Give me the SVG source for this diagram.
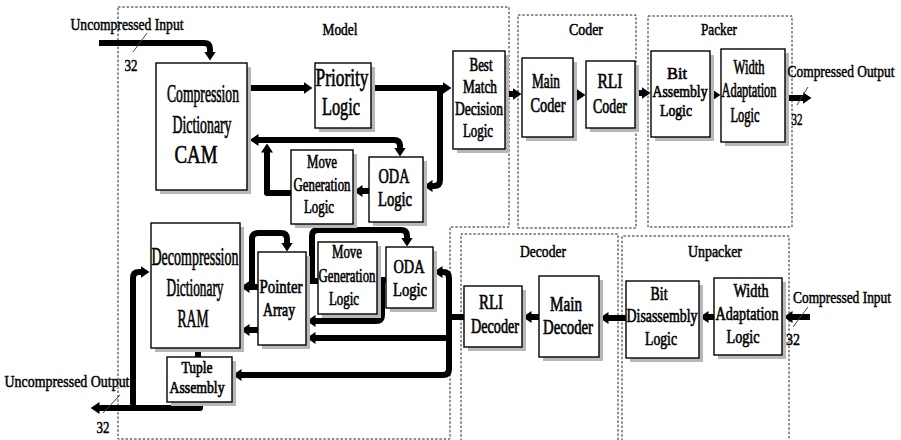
<svg xmlns="http://www.w3.org/2000/svg" width="901" height="440" viewBox="0 0 901 440">
<style>
text{font-family:"Liberation Serif","Times New Roman",serif;fill:#000;text-anchor:middle;stroke:#000;stroke-width:0.65}
.l{font-size:16px;stroke-width:0.5}
.reg{fill:none;stroke:#222;stroke-width:1;stroke-dasharray:2.5,1.8}
.box{fill:#fff;stroke:#000;stroke-width:1.4}
.sh{fill:#b8b8b8}
.w{fill:none;stroke:#000;stroke-width:6;stroke-linejoin:round}
.a{marker-end:url(#ah)}
.slash{stroke:#444;stroke-width:1;fill:none}
</style>
<defs>
<marker id="ah" viewBox="0 0 9 12" refX="0.5" refY="6" markerWidth="9" markerHeight="12" markerUnits="userSpaceOnUse" orient="auto-start-reverse"><path d="M0,0 L9,6 L0,12 z" fill="#000"/></marker>
</defs>
<rect width="901" height="440" fill="#fff"/>
<g id="regions">
<path class="reg" d="M118,7 H509 V227 H450 V439 H118 Z"/>
<rect class="reg" x="518" y="15" width="118" height="213"/>
<rect class="reg" x="648" y="16" width="144" height="211"/>
<path class="reg" d="M461,441 V234 H618 V441"/>
<path class="reg" d="M622,441 V236 H789 V441"/>
<text class="l" x="340" y="35" textLength="35" lengthAdjust="spacingAndGlyphs">Model</text>
<text class="l" x="586" y="35" textLength="34" lengthAdjust="spacingAndGlyphs">Coder</text>
<text class="l" x="719" y="35" textLength="36" lengthAdjust="spacingAndGlyphs">Packer</text>
<text class="l" x="543" y="257" textLength="46" lengthAdjust="spacingAndGlyphs">Decoder</text>
<text class="l" x="715" y="257" textLength="54" lengthAdjust="spacingAndGlyphs">Unpacker</text>
</g>
<g id="connectors">
<path class="w a" d="M99,43 H204 Q210,43 210,49 V52"/>
<path class="w a" d="M247,88 H304"/>
<path class="w a" d="M371,88 H443"/>
<path class="w a" d="M440,88 V180 Q440,186 434,186 H432"/>
<path class="w a" d="M369,191 H362"/>
<path class="w a" d="M291,193 H267 V152"/>
<path class="w a" d="M400,146 Q400,140 394,140 H258"/>
<path class="w a" d="M400,144 V148"/>
<path class="w a" d="M505,94 H513"/>
<path class="w a" d="M573,95 H577"/>
<path class="w a" d="M635,93 H642"/>
<path class="w a" d="M710,95 H712"/>
<path class="w a" d="M785,98 H803"/>
<path class="w a" d="M810,317 H792"/>
<path class="w a" d="M714,317 H708"/>
<path class="w a" d="M626,318 H608"/>
<path class="w a" d="M539,317 H531"/>
<path class="w a" d="M241,375 H443 Q449,375 449,369 V278 Q449,272 443,272 H442" marker-start="url(#ah)"/>
<path class="w a" d="M449,338 H315"/>
<path class="w" d="M464,317 H449"/>
<path class="w a" d="M386,280 H382 V315 Q382,321 376,321 H315"/>
<path class="w" d="M306,281 H318"/>
<path class="w a" d="M312,281 V236 Q312,230 318,230 H401 Q407,230 407,236 V238"/>
<path class="w a" d="M252,287 V239 Q252,233 258,233 H281 Q287,233 287,239 V243"/>
<path class="w a" d="M258,287 H249"/>
<path class="w a" d="M258,330 H249"/>
<path class="w" d="M198,347 V358"/>
<path class="w a" d="M200,401 V408 H99"/>
<path class="w a" d="M133,408 V278 Q133,272 139,272 H141"/>
<path class="slash" d="M133,52 L147,33 M797,105 L808,87 M793,327 L808,307 M103,413 L120,395"/>
</g>
<g id="cam"><rect class="sh" x="160" y="67" width="91" height="127"/><rect class="box" x="156" y="63" width="91" height="127"/>
<text style="font-size:26px" x="203" y="102" textLength="72" lengthAdjust="spacingAndGlyphs">Compression</text>
<text style="font-size:26px" x="202" y="133" textLength="59" lengthAdjust="spacingAndGlyphs">Dictionary</text>
<text style="font-size:26px" x="196" y="163" textLength="43" lengthAdjust="spacingAndGlyphs">CAM</text></g>
<g id="priority"><rect class="sh" x="319" y="67" width="56" height="65"/><rect class="box" x="315" y="63" width="56" height="65"/>
<text style="font-size:25px" x="342" y="86" textLength="53" lengthAdjust="spacingAndGlyphs">Priority</text>
<text style="font-size:25px" x="341" y="115" textLength="38" lengthAdjust="spacingAndGlyphs">Logic</text></g>
<g id="bestmatch"><rect class="sh" x="457" y="55" width="52" height="98"/><rect class="box" x="453" y="51" width="52" height="98"/>
<text style="font-size:19px" x="481" y="71" textLength="23" lengthAdjust="spacingAndGlyphs">Best</text>
<text style="font-size:19px" x="480" y="93" textLength="34" lengthAdjust="spacingAndGlyphs">Match</text>
<text style="font-size:19px" x="479" y="115" textLength="48" lengthAdjust="spacingAndGlyphs">Decision</text>
<text style="font-size:19px" x="478" y="137" textLength="30" lengthAdjust="spacingAndGlyphs">Logic</text></g>
<g id="movegen1"><rect class="sh" x="295" y="154" width="62" height="74"/><rect class="box" x="291" y="150" width="62" height="74"/>
<text style="font-size:19px" x="322" y="168" textLength="30" lengthAdjust="spacingAndGlyphs">Move</text>
<text style="font-size:19px" x="322" y="191" textLength="57" lengthAdjust="spacingAndGlyphs">Generation</text>
<text style="font-size:19px" x="319" y="213" textLength="30" lengthAdjust="spacingAndGlyphs">Logic</text></g>
<g id="oda1"><rect class="sh" x="373" y="161" width="54" height="65"/><rect class="box" x="369" y="157" width="54" height="65"/>
<text style="font-size:20px" x="394" y="183" textLength="31" lengthAdjust="spacingAndGlyphs">ODA</text>
<text style="font-size:20px" x="395" y="206" textLength="34" lengthAdjust="spacingAndGlyphs">Logic</text></g>
<g id="maincoder"><rect class="sh" x="526" y="62" width="51" height="79"/><rect class="box" x="522" y="58" width="51" height="79"/>
<text style="font-size:21px" x="546" y="88" textLength="28" lengthAdjust="spacingAndGlyphs">Main</text>
<text style="font-size:21px" x="548" y="112" textLength="35" lengthAdjust="spacingAndGlyphs">Coder</text></g>
<g id="rlicoder"><rect class="sh" x="590" y="65" width="49" height="67"/><rect class="box" x="586" y="61" width="49" height="67"/>
<text style="font-size:21px" x="610" y="88" textLength="25" lengthAdjust="spacingAndGlyphs">RLI</text>
<text style="font-size:21px" x="610" y="113" textLength="34" lengthAdjust="spacingAndGlyphs">Coder</text></g>
<g id="bitasm"><rect class="sh" x="655" y="55" width="59" height="86"/><rect class="box" x="651" y="51" width="59" height="86"/>
<text style="font-size:17px" x="677" y="79" textLength="20" lengthAdjust="spacingAndGlyphs">Bit</text>
<text style="font-size:17px" x="680" y="97" textLength="55" lengthAdjust="spacingAndGlyphs">Assembly</text>
<text style="font-size:17px" x="676" y="116" textLength="32" lengthAdjust="spacingAndGlyphs">Logic</text></g>
<g id="widthadapt1"><rect class="sh" x="725" y="53" width="64" height="93"/><rect class="box" x="721" y="49" width="64" height="93"/>
<text style="font-size:20px" x="749" y="74" textLength="31" lengthAdjust="spacingAndGlyphs">Width</text>
<text style="font-size:20px" x="749" y="97" textLength="55" lengthAdjust="spacingAndGlyphs">Adaptation</text>
<text style="font-size:20px" x="745" y="122" textLength="29" lengthAdjust="spacingAndGlyphs">Logic</text></g>
<g id="ram"><rect class="sh" x="155" y="227" width="89" height="125"/><rect class="box" x="151" y="223" width="89" height="125"/>
<text style="font-size:26px" x="195" y="265" textLength="87" lengthAdjust="spacingAndGlyphs">Decompression</text>
<text style="font-size:26px" transform="translate(195,296) scale(0.513,1)" x="0" y="0" textLength="111" lengthAdjust="spacingAndGlyphs">Dictionary</text>
<text style="font-size:26px" x="193" y="327" textLength="31" lengthAdjust="spacingAndGlyphs">RAM</text></g>
<g id="tuple"><rect class="sh" x="171" y="361" width="65" height="45"/><rect class="box" x="167" y="357" width="65" height="45"/>
<text style="font-size:17px" x="197" y="373" textLength="31" lengthAdjust="spacingAndGlyphs">Tuple</text>
<text style="font-size:17px" x="197" y="393" textLength="55" lengthAdjust="spacingAndGlyphs">Assembly</text></g>
<g id="pointer"><rect class="sh" x="262" y="256" width="48" height="93"/><rect class="box" x="258" y="252" width="48" height="93"/>
<text style="font-size:19px" transform="translate(281,293) scale(0.783,1)" x="0" y="0" textLength="55" lengthAdjust="spacingAndGlyphs">Pointer</text>
<text style="font-size:19px" x="279" y="316" textLength="32" lengthAdjust="spacingAndGlyphs">Array</text></g>
<g id="movegen2"><rect class="sh" x="322" y="246" width="59" height="72"/><rect class="box" x="318" y="242" width="59" height="72"/>
<text style="font-size:19px" x="347" y="258" textLength="30" lengthAdjust="spacingAndGlyphs">Move</text>
<text style="font-size:19px" transform="translate(347,282) scale(0.675,1)" x="0" y="0" textLength="84.4" lengthAdjust="spacingAndGlyphs">Generation</text>
<text style="font-size:19px" x="344" y="305" textLength="30" lengthAdjust="spacingAndGlyphs">Logic</text></g>
<g id="oda2"><rect class="sh" x="390" y="251" width="47" height="61"/><rect class="box" x="386" y="247" width="47" height="61"/>
<text style="font-size:19px" transform="translate(409,273) scale(0.753,1)" x="0" y="0" textLength="41.2" lengthAdjust="spacingAndGlyphs">ODA</text>
<text style="font-size:19px" x="410" y="296" textLength="34" lengthAdjust="spacingAndGlyphs">Logic</text></g>
<g id="rlidecoder"><rect class="sh" x="468" y="290" width="58" height="61"/><rect class="box" x="464" y="286" width="58" height="61"/>
<text style="font-size:20px" x="491" y="309" textLength="24" lengthAdjust="spacingAndGlyphs">RLI</text>
<text style="font-size:20px" x="495" y="333" textLength="48" lengthAdjust="spacingAndGlyphs">Decoder</text></g>
<g id="maindecoder"><rect class="sh" x="543" y="280" width="60" height="81"/><rect class="box" x="539" y="276" width="60" height="81"/>
<text style="font-size:20px" x="566" y="311" textLength="32" lengthAdjust="spacingAndGlyphs">Main</text>
<text style="font-size:20px" x="568" y="334" textLength="50" lengthAdjust="spacingAndGlyphs">Decoder</text></g>
<g id="bitdis"><rect class="sh" x="630" y="285" width="73" height="77"/><rect class="box" x="626" y="281" width="73" height="77"/>
<text style="font-size:19px" x="659" y="300" textLength="17" lengthAdjust="spacingAndGlyphs">Bit</text>
<text style="font-size:19px" x="662" y="322" textLength="71" lengthAdjust="spacingAndGlyphs">Disassembly</text>
<text style="font-size:19px" x="661" y="345" textLength="32" lengthAdjust="spacingAndGlyphs">Logic</text></g>
<g id="widthadapt2"><rect class="sh" x="718" y="282" width="68" height="77"/><rect class="box" x="714" y="278" width="68" height="77"/>
<text style="font-size:19px" x="751" y="297" textLength="35" lengthAdjust="spacingAndGlyphs">Width</text>
<text style="font-size:19px" x="747" y="320" textLength="63" lengthAdjust="spacingAndGlyphs">Adaptation</text>
<text style="font-size:19px" x="743" y="343" textLength="33" lengthAdjust="spacingAndGlyphs">Logic</text></g>
<g id="io">
<text class="l" style="font-size:17px" x="127" y="30" textLength="113" lengthAdjust="spacingAndGlyphs">Uncompressed Input</text>
<text class="l" style="font-size:17px" x="131" y="71" textLength="13" lengthAdjust="spacingAndGlyphs">32</text>
<text class="l" style="font-size:17px" transform="translate(841,77) scale(0.79,1)" x="0" y="0">Compressed Output</text>
<text class="l" style="font-size:17px" x="797" y="125" textLength="11" lengthAdjust="spacingAndGlyphs">32</text>
<text class="l" style="font-size:17px" transform="translate(842,303) scale(0.79,1)" x="0" y="0">Compressed Input</text>
<text class="l" style="font-size:17px" x="793" y="345" textLength="14" lengthAdjust="spacingAndGlyphs">32</text>
<text class="l" style="font-size:17px" x="67" y="387" textLength="125" lengthAdjust="spacingAndGlyphs">Uncompressed Output</text>
<text class="l" style="font-size:17px" x="103" y="433" textLength="13" lengthAdjust="spacingAndGlyphs">32</text>
</g>
</svg>
